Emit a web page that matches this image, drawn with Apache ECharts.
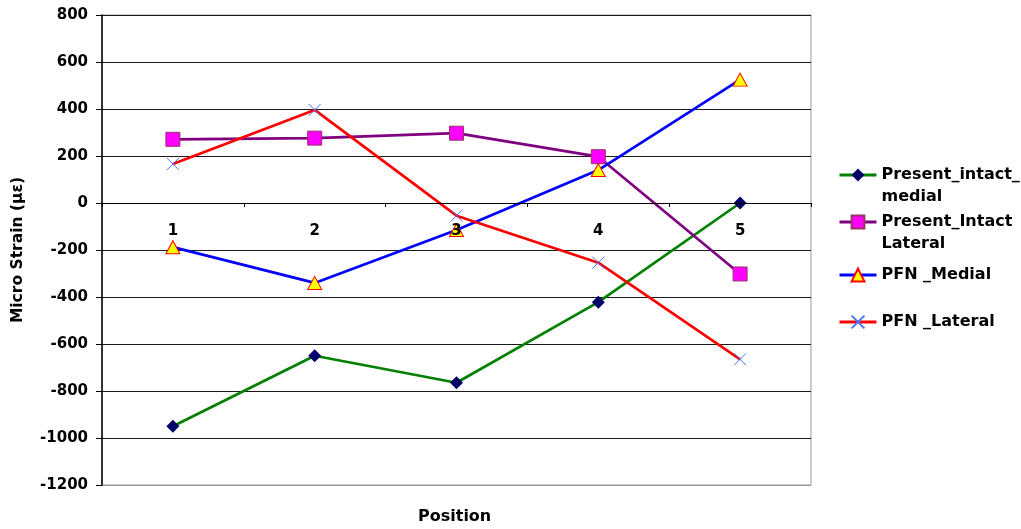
<!DOCTYPE html>
<html>
<head>
<meta charset="utf-8">
<script src="https://cdn.jsdelivr.net/npm/echarts@6/dist/echarts.min.js"></script>
<style>
  html, body { margin: 0; padding: 0; background: #fff; }
  #chart { width: 1021px; height: 529px; }
</style>
</head>
<body>
<div id="chart"></div>
<script>
// Strain readings at five gauge positions
const positions = ['1', '2', '3', '4', '5'];
const presentIntactMedial = [-950, -650, -765, -422, 0];
const presentIntactLateral = [271, 276, 297, 197, -302];
const pfnMedial = [-188, -340, -115, 140, 525];
const pfnLateral = [166, 396, -54, -254, -665];

const seriesNames = ['Present_intact_\nmedial', 'Present_Intact\nLateral', 'PFN _Medial', 'PFN _Lateral'];
const yTicks = { min: -1200, max: 800, step: 200 };

const FONT = 'DejaVu Sans';
const crossPath = 'path://M0,0L10,10M10,0L0,10';

// plot frame in pixels
const GRID = { left: 102, top: 15, right: 210, bottom: 44 };
const plotHeight = 529 - GRID.top - GRID.bottom;
// distance from the bottom of the plot up to the zero line, where the category axis sits
const zeroOffset = plotHeight * (0 - yTicks.min) / (yTicks.max - yTicks.min);

const chart = echarts.init(document.getElementById('chart'), null, { renderer: 'canvas' });

// grid lines: the bottom one doubles as the plot frame, so it is grey
const gridColors = [];
for (let v = yTicks.min; v <= yTicks.max; v += yTicks.step) {
  gridColors.push(v === yTicks.min ? '#9a9a9a' : '#1a1a1a');
}

// one legend block per series so the spacing can follow the two-line names;
// the first line of a wrapped name sits level with its key
function legendAt(name, iconCenter, twoLines) {
  const lineH = 22;
  const textH = twoLines ? lineH * 3 : lineH;
  return {
    data: [name],
    orient: 'vertical',
    left: 838,
    top: iconCenter - textH / 2,
    itemWidth: 37,
    itemHeight: 16,
    itemGap: 4,
    padding: 0,
    selectedMode: false,
    lineStyle: { width: 3 },
    formatter: n => (twoLines ? '\n' + n : n),
    textStyle: {
      fontFamily: FONT,
      fontWeight: 'bold',
      fontSize: 16,
      color: '#000',
      lineHeight: lineH
    }
  };
}

const option = {
  animation: false,
  backgroundColor: '#fff',
  grid: {
    left: GRID.left, top: GRID.top, right: GRID.right, bottom: GRID.bottom,
    show: true, borderColor: '#9a9a9a', borderWidth: 1
  },
  legend: [
    legendAt(seriesNames[0], 175, true),
    legendAt(seriesNames[1], 222, true),
    legendAt(seriesNames[2], 275, false),
    legendAt(seriesNames[3], 322, false)
  ],
  xAxis: {
    type: 'category',
    data: positions,
    boundaryGap: true,
    position: 'bottom',
    offset: -zeroOffset,
    z: 10,
    axisLine: { onZero: false, lineStyle: { color: '#000', width: 1.2 } },
    axisTick: { show: true, inside: false, length: 4, lineStyle: { color: '#000' } },
    axisLabel: {
      margin: 21,
      fontFamily: FONT, fontWeight: 'bold', fontSize: 15, color: '#000'
    },
    splitLine: { show: false }
  },
  yAxis: {
    type: 'value',
    min: yTicks.min,
    max: yTicks.max,
    interval: yTicks.step,
    name: 'Micro Strain (µε)',
    nameLocation: 'middle',
    nameGap: 76,
    nameTextStyle: { fontFamily: FONT, fontWeight: 'bold', fontSize: 15.5, color: '#000' },
    axisLine: { show: true, lineStyle: { color: '#000', width: 1.5 } },
    axisTick: { show: true, inside: false, length: 6, lineStyle: { color: '#000' } },
    axisLabel: {
      margin: 14,
      formatter: v => String(v),
      fontFamily: FONT, fontWeight: 'bold', fontSize: 15, color: '#000'
    },
    splitLine: { show: true, lineStyle: { color: gridColors, width: 1.2 } }
  },
  graphic: [{
    type: 'text',
    left: 418,
    top: 509,
    style: { text: 'Position', font: 'bold 16px "DejaVu Sans"', fill: '#000' }
  }],
  series: [
    {
      name: seriesNames[0], type: 'line', data: presentIntactMedial,
      symbol: 'diamond', symbolSize: 13,
      lineStyle: { color: '#008000', width: 2.7 },
      itemStyle: { color: '#000066', borderColor: '#000066', borderWidth: 0 }
    },
    {
      name: seriesNames[1], type: 'line', data: presentIntactLateral,
      symbol: 'rect', symbolSize: 14,
      lineStyle: { color: '#800080', width: 2.7 },
      itemStyle: { color: '#ff00ff', borderColor: '#993366', borderWidth: 1 }
    },
    {
      name: seriesNames[2], type: 'line', data: pfnMedial,
      symbol: 'triangle', symbolSize: [14, 13],
      lineStyle: { color: '#0000ff', width: 2.7 },
      itemStyle: { color: '#ffff00', borderColor: '#ff0000', borderWidth: 1 }
    },
    {
      name: seriesNames[3], type: 'line', data: pfnLateral,
      symbol: crossPath, symbolSize: 12,
      lineStyle: { color: '#ff0000', width: 2.7 },
      itemStyle: { color: 'none', borderColor: '#4d73ff', borderWidth: 1 }
    }
  ]
};

chart.setOption(option);
</script>
</body>
</html>
